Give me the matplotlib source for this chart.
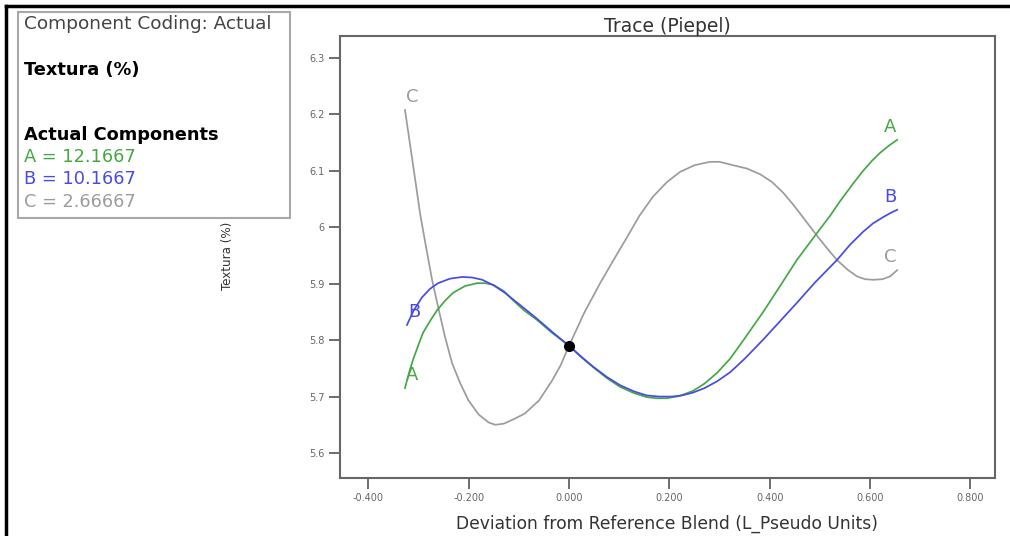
import matplotlib
matplotlib.use("Agg")
import matplotlib.pyplot as plt
from matplotlib.lines import Line2D
from matplotlib.patches import Rectangle

plt.rcParams['font.family'] = ['DejaVu Sans']

# trace curves, deviation from reference blend vs response
a_x = [-0.327, -0.318, -0.311, -0.300, -0.291, -0.277, -0.263, -0.247, -0.231, -0.207,
       -0.183, -0.167, -0.151, -0.130, -0.112, -0.090, -0.064, -0.034, 0.000, 0.024,
       0.048, 0.075, 0.102, 0.130, 0.155, 0.175, 0.195, 0.220, 0.247, 0.270,
       0.295, 0.321, 0.350, 0.387, 0.420, 0.454, 0.496, 0.520, 0.540, 0.565,
       0.586, 0.605, 0.620, 0.638, 0.654]
a_y = [5.715, 5.745, 5.765, 5.792, 5.813, 5.834, 5.853, 5.870, 5.884, 5.896,
       5.901, 5.901, 5.898, 5.887, 5.871, 5.853, 5.836, 5.813, 5.790, 5.770,
       5.752, 5.733, 5.717, 5.706, 5.699, 5.697, 5.697, 5.701, 5.710, 5.723,
       5.742, 5.767, 5.803, 5.850, 5.895, 5.942, 5.992, 6.020, 6.046, 6.076,
       6.100, 6.119, 6.132, 6.145, 6.155]

b_x = [-0.323, -0.310, -0.293, -0.277, -0.261, -0.237, -0.213, -0.193, -0.173, -0.150,
       -0.128, -0.100, -0.068, -0.034, 0.000, 0.024, 0.048, 0.075, 0.102, 0.130,
       0.155, 0.180, 0.205, 0.225, 0.247, 0.270, 0.295, 0.321, 0.350, 0.387,
       0.420, 0.454, 0.490, 0.534, 0.560, 0.586, 0.606, 0.626, 0.640, 0.654]
b_y = [5.827, 5.852, 5.876, 5.891, 5.901, 5.909, 5.912, 5.911, 5.907, 5.897,
       5.884, 5.864, 5.841, 5.815, 5.790, 5.771, 5.753, 5.735, 5.720, 5.709,
       5.702, 5.700, 5.700, 5.702, 5.707, 5.715, 5.727, 5.743, 5.767, 5.801,
       5.833, 5.866, 5.902, 5.942, 5.969, 5.992, 6.007, 6.018, 6.025, 6.031]

c_x = [-0.327, -0.310, -0.297, -0.285, -0.273, -0.261, -0.247, -0.233, -0.217, -0.201,
       -0.180, -0.160, -0.147, -0.130, -0.110, -0.088, -0.060, -0.034, -0.017, 0.000,
       0.030, 0.062, 0.090, 0.116, 0.140, 0.167, 0.195, 0.221, 0.250, 0.281,
       0.300, 0.327, 0.355, 0.381, 0.405, 0.427, 0.447, 0.466, 0.496, 0.515,
       0.534, 0.555, 0.574, 0.590, 0.606, 0.625, 0.640, 0.654]
c_y = [6.208, 6.105, 6.025, 5.965, 5.907, 5.859, 5.805, 5.759, 5.724, 5.694,
       5.668, 5.654, 5.650, 5.652, 5.660, 5.670, 5.693, 5.728, 5.755, 5.790,
       5.848, 5.901, 5.944, 5.983, 6.020, 6.054, 6.080, 6.098, 6.110, 6.116,
       6.116, 6.110, 6.104, 6.094, 6.080, 6.061, 6.040, 6.018, 5.983, 5.962,
       5.942, 5.925, 5.913, 5.908, 5.907, 5.908, 5.913, 5.924]

ref_x, ref_y = 0.0, 5.79

x_ticks = [-0.4, -0.2, 0.0, 0.2, 0.4, 0.6, 0.8]
y_ticks = [5.6, 5.7, 5.8, 5.9, 6.0, 6.1, 6.2, 6.3]
y_ticklabels = ['5.6', '5.7', '5.8', '5.9', '6', '6.1', '6.2', '6.3']

comp_names = ['A', 'B', 'C']
comp_values = ['12.1667', '10.1667', '2.66667']

green = '#44a844'
blue = '#4a4ae6'
grey = '#9c9c9c'

fig = plt.figure(figsize=(10.10, 5.36), dpi=100)
ax = fig.add_axes([340 / 1010, 1 - 478 / 536, 655 / 1010, 442 / 536])

for xs, ys, col in [(c_x, c_y, grey), (a_x, a_y, green), (b_x, b_y, blue)]:
    ax.plot(xs, ys, color=col, lw=1.25)
ax.plot([ref_x], [ref_y], 'o', color='black', ms=7)

# letter tags at both ends of each trace
for name, xs, ys, col in [('A', a_x, a_y, green), ('B', b_x, b_y, blue), ('C', c_x, c_y, grey)]:
    ax.annotate(name, (xs[0], ys[0]), xytext=(5, 3), textcoords='offset points',
                ha='center', va='bottom', color=col, fontsize=13)
    ax.annotate(name, (xs[-1], ys[-1]), xytext=(-5, 3), textcoords='offset points',
                ha='center', va='bottom', color=col, fontsize=13)

ax.set_xlim(-0.4565, 0.849)
ax.set_ylim(5.5557, 6.339)
ax.set_xticks(x_ticks)
ax.set_xticklabels(['%.3f' % v for v in x_ticks])
ax.set_yticks(y_ticks)
ax.set_yticklabels(y_ticklabels)
ax.tick_params(direction='out', length=8, width=1.2, color='#555555',
               labelsize=7, labelcolor='#666666', pad=3)
for s in ax.spines.values():
    s.set_color('#666666')
    s.set_linewidth(1.5)

ax.set_title('Trace (Piepel)', fontsize=13.5, color='#333333', pad=3)
ax.set_xlabel('Deviation from Reference Blend (L_Pseudo Units)', fontsize=12.3,
              color='#333333', labelpad=8)
fig.text(228 / 1010, 1 - 256 / 536, 'Textura (%)', rotation=90, fontsize=9.5,
         fontstretch='condensed', color='#333333', ha='center', va='center')

# info box on the left
fig.add_artist(Rectangle((18 / 1010, 1 - 218 / 536), 272 / 1010, 206 / 536,
                         transform=fig.transFigure, fill=False,
                         edgecolor='#a8a8a8', lw=1.5))
fig.text(24 / 1010, 1 - 24 / 536, 'Component Coding: Actual', fontsize=13.3,
         color='#444444', va='center')
fig.text(24 / 1010, 1 - 70 / 536, 'Textura (%)', fontsize=12.8,
         fontweight='bold', color='black', va='center')
fig.text(24 / 1010, 1 - 135 / 536, 'Actual Components', fontsize=12.8,
         fontweight='bold', color='black', va='center')
for i, (n, v, col) in enumerate(zip(comp_names, comp_values, [green, blue, grey])):
    fig.text(24 / 1010, 1 - (157 + 22.5 * i) / 536, '%s = %s' % (n, v),
             fontsize=12.8, color=col, va='center')

# outer frame lines
fig.add_artist(Line2D([6 / 1010, 1], [1 - 6 / 536, 1 - 6 / 536],
                      transform=fig.transFigure, color='black', lw=2.5))
fig.add_artist(Line2D([6 / 1010, 6 / 1010], [0, 1 - 6 / 536],
                      transform=fig.transFigure, color='black', lw=2.5))

fig.savefig('out.png', dpi=100, facecolor='white')
